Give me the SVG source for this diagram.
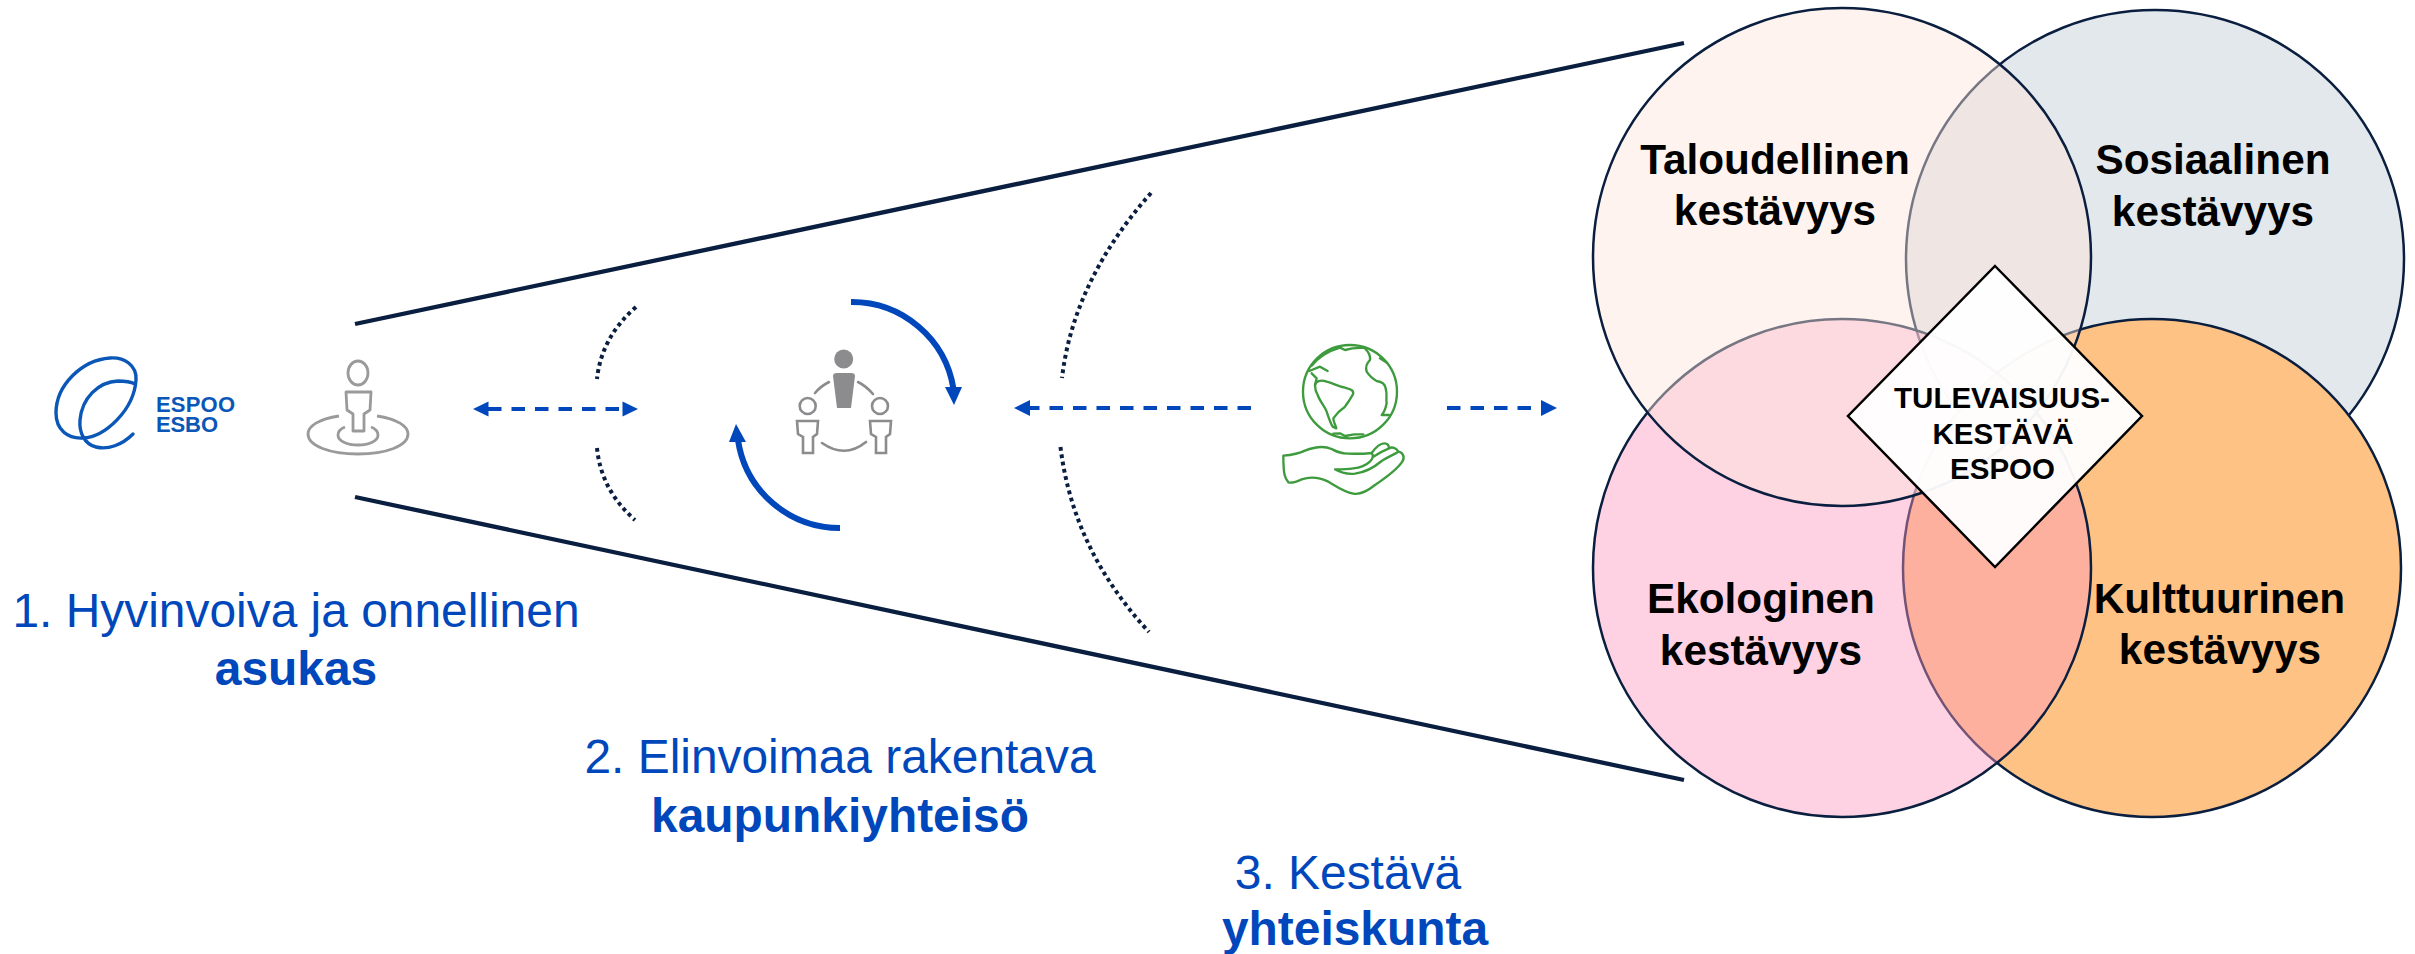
<svg xmlns="http://www.w3.org/2000/svg" width="2415" height="954" viewBox="0 0 2415 954">
<style>
text{font-family:"Liberation Sans",Arial,sans-serif}
.lbl{font-size:47.900px;fill:#0047BB;text-anchor:middle}
.b{font-weight:700}
.sec{font-size:42.300px;font-weight:700;fill:#000;text-anchor:middle}
.dia{font-size:29.500px;font-weight:700;fill:#000;text-anchor:middle}
.logo{font-size:22px;font-weight:700;fill:#0B57B8}
.beam{stroke:#0A1E3F;stroke-width:4.300;fill:none}
.dot{stroke:#0A1E3F;stroke-width:4;fill:none;stroke-dasharray:3.800 3.600}
.dash{stroke:#0047BB;stroke-width:3.800;fill:none;stroke-dasharray:13.500 10}
.turn{stroke:#0047BB;stroke-width:6;fill:none}
.head{fill:#0047BB}
.circ{stroke:#0A1E3F;stroke-width:2.500}
.grey{stroke:#8C8C8F;stroke-width:2.600;fill:none;stroke-linecap:round}
.ring{stroke:#9A9A9A;stroke-width:2.800;fill:none}
.green{stroke:#3D9B3D;stroke-width:7;fill:none;stroke-linejoin:round;stroke-linecap:round}
</style>
<g id="connectors">
<path class="beam" d="M355 324L1684 43"/>
<path class="beam" d="M355 497L1684 780"/>
<path class="dot" d="M636 307Q601.500 337 597 379"/>
<path class="dot" d="M597 448Q601 490 635 520"/>
<path class="dot" d="M1151 193Q1073.500 280.500 1062 378"/>
<path class="dot" d="M1060.500 447Q1073 550 1149 632"/>
<path class="dash" d="M488 409H624"/>
<path class="head" d="M473 409L488.500 401.500V416.500Z"/>
<path class="head" d="M638 409L622.500 401.500V416.500Z"/>
<path class="dash" d="M1251 408H1028"/>
<path class="head" d="M1014 408L1030 400V416Z"/>
<path class="dash" d="M1447 408H1542"/>
<path class="head" d="M1557 408L1541 400V416Z"/>
<path class="turn" d="M851 302A103 103 0 0 1 953.500 389"/>
<path class="head" d="M954 405L945 387H962Z"/>
<path class="turn" d="M840 528A103 103 0 0 1 738 440"/>
<path class="head" d="M736 424L729 442H746Z"/>
</g>
<g id="node-logo">
<path d="M133 434C122 445 108 450 96 447C84 444 79 432 80 420C82 398 98 382 118 381C125 381 131 382 135 384M136 380C137 365 124 357 110 358C82 360 56 385 56 413C56 430 68 439 83 438C105 437 134 410 136 380" fill="none" stroke="#0B57B8" stroke-width="3.400" stroke-linecap="round"/>
<text class="logo" x="156" y="412" textLength="79">ESPOO</text>
<text class="logo" x="156" y="432" textLength="62">ESBO</text>
</g>
<g id="node-resident">
<ellipse class="ring" cx="358" cy="373" rx="10" ry="12"/>
<path class="ring" d="M346 392H371L370 410L364 414V431H353V414L347 410Z" stroke-linejoin="round"/>
<path class="ring" d="M339 416C319 419 308 426 308 434C308 446 330 454 358 454C386 454 408 446 408 434C408 426 397 419 377 416"/>
<path class="ring" d="M345 427C340 429 338 432 338 435C338 441 347 445 358 445C369 445 378 441 378 435C378 432 376 429 371 427"/>
</g>
<g id="node-community">
<circle cx="843.700" cy="359" r="9.500" fill="#8C8C8F"/>
<path d="M833 376Q833 373 837 373H851Q855 373 855 376L853 392L851 408H837L835 392Z" fill="#8C8C8F"/>
<circle class="grey" cx="807.700" cy="406" r="8"/>
<path class="grey" d="M797 421H818L817 434L813 437V453H803V437L798 434Z"/>
<circle class="grey" cx="880" cy="406" r="8"/>
<path class="grey" d="M870 421H891L890 434L886 437V453H876V437L871 434Z"/>
<path class="grey" d="M815 393Q821 386 829 382"/>
<path class="grey" d="M858 382Q866 386 873 394"/>
<path class="grey" d="M822 443Q845 459 866 442"/>
</g>
<g id="node-globe" transform="translate(1265 335) scale(0.3333)">
<ellipse class="green" cx="255" cy="170" rx="141" ry="140"/>
<path class="green" d="M150 150C152 140 165 132 185 140C205 145 215 152 240 158C255 162 268 165 264 178C258 190 250 200 240 215C225 225 215 235 205 250C205 262 212 270 214 280L203 275C195 262 190 245 185 230C180 215 165 200 158 180C152 170 150 160 150 150Z"/>
<path class="green" d="M133 108L165 95L188 108M140 115L155 130L150 150M140 92C165 62 190 48 225 38L240 45L262 40L298 38C310 50 318 60 315 75C305 85 300 95 305 110C315 125 320 130 335 138C350 140 360 145 362 160C368 180 362 190 365 205C362 220 358 232 350 240L372 240M345 70L367 84M205 296L225 295L240 303L268 298L295 298"/>
<path class="green" d="M55 362C80 360 100 357 120 347C150 335 180 333 200 342C215 350 225 356 250 356C275 356 300 358 320 354C330 340 345 325 358 325C368 325 372 332 372 340C380 335 395 338 400 350C415 352 420 368 412 380C395 405 360 430 330 450C305 470 285 480 265 476C240 472 215 455 190 440C165 428 135 425 110 433C95 440 80 445 70 442C60 430 55 420 55 362Z"/>
<path class="green" d="M320 354C332 368 310 395 265 400C245 403 225 403 210 403C225 412 250 418 270 416C300 412 330 395 350 378C370 365 395 355 400 350M372 340C360 345 340 355 325 365"/>
</g>
<g id="node-sosiaalinen">
<circle class="circ" cx="2155" cy="259" r="249" fill="#E3E8ED"/>
</g>
<g id="node-kulttuurinen">
<circle class="circ" cx="2152" cy="568" r="249" fill="#FEC384"/>
</g>
<g id="node-ekologinen">
<circle class="circ" cx="1842" cy="568" r="249" fill="#FC97BE" fill-opacity="0.433"/>
</g>
<g id="node-taloudellinen">
<circle class="circ" cx="1842" cy="257" r="249" fill="#FDE5D9" fill-opacity="0.45"/>
</g>
<g id="node-labels">
<text class="sec" x="1775" y="174">Taloudellinen</text>
<text class="sec" x="1775" y="225">kestävyys</text>
<text class="sec" x="2213" y="174">Sosiaalinen</text>
<text class="sec" x="2213" y="226">kestävyys</text>
<text class="sec" x="1761" y="613">Ekologinen</text>
<text class="sec" x="1761" y="665">kestävyys</text>
<text class="sec" x="2219.500" y="613">Kulttuurinen</text>
<text class="sec" x="2220" y="664">kestävyys</text>
</g>
<g id="node-center">
<path d="M1995 266L2142 416L1995 567L1848 416Z" fill="#fff" fill-opacity="0.95" stroke="#000" stroke-width="2.500"/>
<text class="dia" x="2002" y="408">TULEVAISUUS-</text>
<text class="dia" x="2003" y="444">KESTÄVÄ</text>
<text class="dia" x="2002.500" y="479">ESPOO</text>
</g>
<g id="node-level1">
<text class="lbl" x="296" y="627">1. Hyvinvoiva ja onnellinen</text>
<text class="lbl b" x="296" y="685">asukas</text>
</g>
<g id="node-level2">
<text class="lbl" x="840" y="773">2. Elinvoimaa rakentava</text>
<text class="lbl b" x="840" y="832">kaupunkiyhteisö</text>
</g>
<g id="node-level3">
<text class="lbl" x="1348" y="889">3. Kestävä</text>
<text class="lbl b" x="1355" y="945">yhteiskunta</text>
</g>
</svg>
